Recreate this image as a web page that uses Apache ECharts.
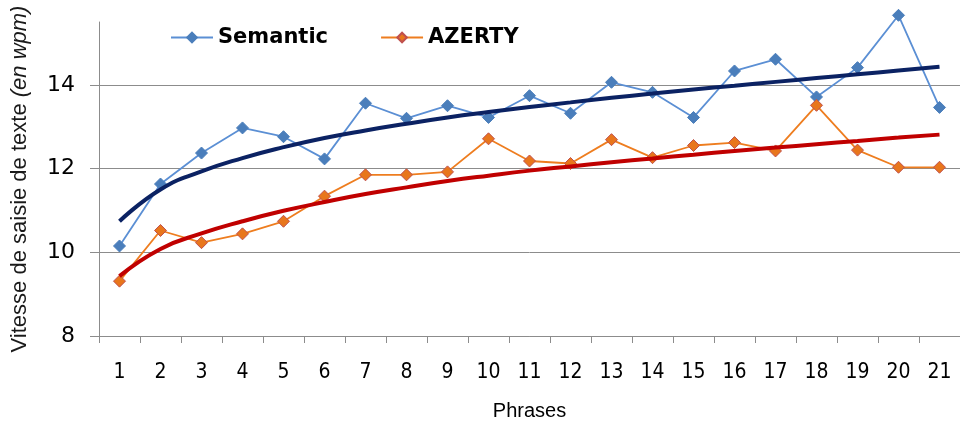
<!DOCTYPE html>
<html>
<head>
<meta charset="utf-8">
<script src="https://cdn.jsdelivr.net/npm/echarts@6/dist/echarts.min.js"></script>
<style>
html,body{margin:0;padding:0;background:#fff;}
#chart{width:960px;height:426px;}
</style>
</head>
<body>
<div id="chart"></div>
<script>
var categories = ['1','2','3','4','5','6','7','8','9','10','11','12','13','14','15','16','17','18','19','20','21'];
var semantic = [10.15, 11.63, 12.37, 12.97, 12.76, 12.23, 13.56, 13.2, 13.5, 13.22, 13.74, 13.32, 14.06, 13.82, 13.22, 14.33, 14.61, 13.71, 14.41, 15.66, 13.46];
var azerty = [9.31, 10.52, 10.23, 10.44, 10.74, 11.34, 11.85, 11.85, 11.92, 12.71, 12.18, 12.12, 12.69, 12.26, 12.55, 12.62, 12.42, 13.51, 12.44, 12.03, 12.03];
var semanticTrend = [10.74, 11.5, 11.93, 12.25, 12.51, 12.73, 12.91, 13.07, 13.22, 13.35, 13.47, 13.58, 13.69, 13.79, 13.89, 13.98, 14.07, 14.16, 14.25, 14.34, 14.43];
var azertyTrend = [9.43, 10.08, 10.45, 10.74, 10.99, 11.2, 11.39, 11.55, 11.7, 11.83, 11.95, 12.05, 12.15, 12.24, 12.33, 12.42, 12.5, 12.58, 12.66, 12.74, 12.81];
var yTicks = [8, 10, 12, 14];

var chart = echarts.init(document.getElementById('chart'), null, {renderer: 'canvas'});
chart.setOption({
  animation: false,
  backgroundColor: '#ffffff',
  grid: {left: 99, right: -5, top: 22, bottom: 83, containLabel: false},
  legend: {
    data: ['Semantic', 'AZERTY'],
    left: 165, top: 22,
    itemWidth: 42, itemHeight: 12, itemGap: 52,
    textStyle: {fontFamily: 'DejaVu Sans', fontWeight: 'bold', fontSize: 21, color: '#000'}
  },
  xAxis: {
    type: 'category',
    data: categories,
    boundaryGap: true,
    name: 'Phrases',
    nameLocation: 'middle',
    nameGap: 65,
    nameTextStyle: {fontFamily: '"Liberation Sans Narrow", "Liberation Sans", Arial', fontSize: 20, color: '#000'},
    axisLine: {lineStyle: {color: '#8c8c8c', width: 1}},
    axisTick: {show: true, length: 7, alignWithLabel: false, lineStyle: {color: '#8c8c8c'}},
    axisLabel: {margin: 26, fontFamily: '"DejaVu Sans Condensed", "DejaVu Sans"', fontSize: 21, color: '#000', interval: 0},
    splitLine: {show: false}
  },
  yAxis: {
    type: 'value',
    min: 8, max: 15.5, interval: 2,
    name: '{n|Vitesse de saisie de texte }{i|(en wpm)}',
    nameLocation: 'middle',
    nameRotate: 90,
    nameGap: 68,
    nameTextStyle: {
      rich: {
        n: {fontFamily: '"Liberation Sans", Arial', fontSize: 22, color: '#1a1a1a'},
        i: {fontFamily: '"Liberation Sans", Arial', fontSize: 22, fontStyle: 'italic', color: '#1a1a1a'}
      }
    },
    axisLine: {show: true, lineStyle: {color: '#8c8c8c', width: 1}},
    axisTick: {show: true, length: 9, lineStyle: {color: '#8c8c8c'}},
    axisLabel: {
      margin: 24,
      fontFamily: '"DejaVu Sans"', fontSize: 22, color: '#000',
      showMaxLabel: false,
      formatter: function (v) { return yTicks.indexOf(v) >= 0 ? String(v) : ''; }
    },
    splitLine: {show: true, lineStyle: {color: ['#8c8c8c', '#8c8c8c', '#8c8c8c', '#8c8c8c', 'rgba(0,0,0,0)'], width: 1}}
  },
  series: [
    {
      name: 'Semantic', type: 'line', data: semantic, clip: false,
      symbol: 'diamond', symbolSize: 12,
      lineStyle: {color: '#5b8fd4', width: 1.8},
      itemStyle: {color: '#4a7ebb', borderColor: '#4a7ebb', borderWidth: 1},
      z: 3
    },
    {
      name: 'AZERTY', type: 'line', data: azerty, clip: false,
      symbol: 'diamond', symbolSize: 12,
      lineStyle: {color: '#ee7d1f', width: 1.8},
      itemStyle: {color: '#e8761c', borderColor: '#c0504d', borderWidth: 1},
      z: 3
    },
    {
      name: 'Semantic trend', type: 'line', data: semanticTrend,
      smooth: 0.5, showSymbol: false, symbol: 'none',
      lineStyle: {color: '#0b2263', width: 4},
      z: 4, silent: true
    },
    {
      name: 'AZERTY trend', type: 'line', data: azertyTrend,
      smooth: 0.5, showSymbol: false, symbol: 'none',
      lineStyle: {color: '#c00000', width: 4},
      z: 4, silent: true
    }
  ]
});
</script>
</body>
</html>
